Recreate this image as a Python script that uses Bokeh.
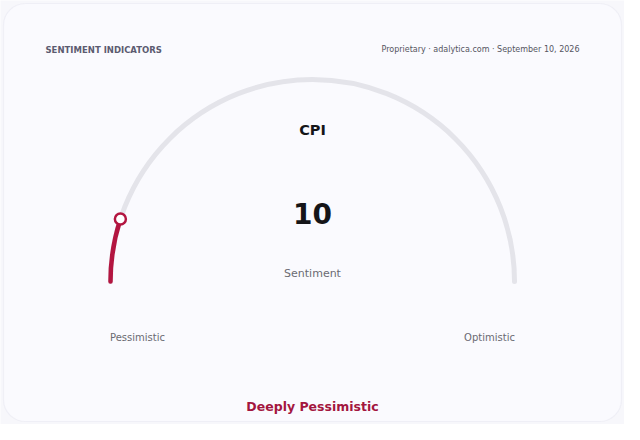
import math
from bokeh.plotting import figure
from bokeh.models import Range1d, BoxAnnotation
from bokeh.core.properties import value
from bokeh.embed import file_html
from bokeh.resources import INLINE

# ---- data ----
indicator = "CPI"
score = [10]
scale_min = [0]
scale_max = [100]
center_label = ["Sentiment"]
end_labels = ["Pessimistic", "Optimistic"]
verdict = ["Deeply Pessimistic"]
header_left = ["SENTIMENT INDICATORS"]
header_right = ["Proprietary · adalytica.com · September 10, 2026"]

W, H = 624, 424
FONT = value("DejaVu Sans")

p = figure(width=W, height=H, output_backend="svg", toolbar_location=None,
           x_range=Range1d(0, W), y_range=Range1d(0, H), min_border=0)
p.axis.visible = False
p.grid.visible = False
p.outline_line_color = None
p.background_fill_color = "#f7f7fb"
p.border_fill_color = "#f7f7fb"

# card
card = BoxAnnotation(left=3, right=621, bottom=3, top=421, border_radius=22,
                     fill_color="#fafafe", fill_alpha=1.0,
                     line_color="#dcdce8", line_width=1.2, level="underlay")
p.add_layout(card)

cx, cy, r = 312, 143, 202
frac = (score[0] - scale_min[0]) / (scale_max[0] - scale_min[0])
ang = math.pi * (1 - frac)

# track
p.arc(x=[cx], y=[cy], radius=r, start_angle=0, end_angle=math.pi,
      direction="anticlock", line_color="#e4e4ea", line_width=5, line_cap="round")
# value arc
p.arc(x=[cx], y=[cy], radius=r, start_angle=ang, end_angle=math.pi,
      direction="anticlock", line_color="#b31540", line_width=4.5, line_cap="round")
# marker
p.scatter(x=[cx + r * math.cos(ang)], y=[cy + r * math.sin(ang)], size=11,
          fill_color="white", line_color="#b31540", line_width=2.5)

def txt(x, y, s, size, color, bold=False, align="center"):
    p.text(x=[x], y=[y], text=[s], text_font=FONT, text_font_size=size,
           text_color=color, text_align=align, text_baseline="middle",
           text_font_style="bold" if bold else "normal")

txt(45, 432 - 57, header_left[0], "8.5px", "#5b5b70", bold=True, align="left")
txt(579, 432 - 57, header_right[0], "8px", "#55555f", align="right")
txt(cx, 432 - 137, indicator, "14.5px", "#151518", bold=True)
txt(cx, 432 - 221, str(score[0]), "28px", "#151518", bold=True)
txt(cx, 432 - 281, center_label[0], "11px", "#6a6a72")
txt(137, 432 - 345, end_labels[0], "10px", "#6a6a72")
txt(489, 432 - 345, end_labels[1], "10px", "#6a6a72")
txt(cx, 432 - 414, verdict[0], "12.5px", "#a3163f", bold=True)

open("out.html", "w").write(file_html(p, INLINE))
